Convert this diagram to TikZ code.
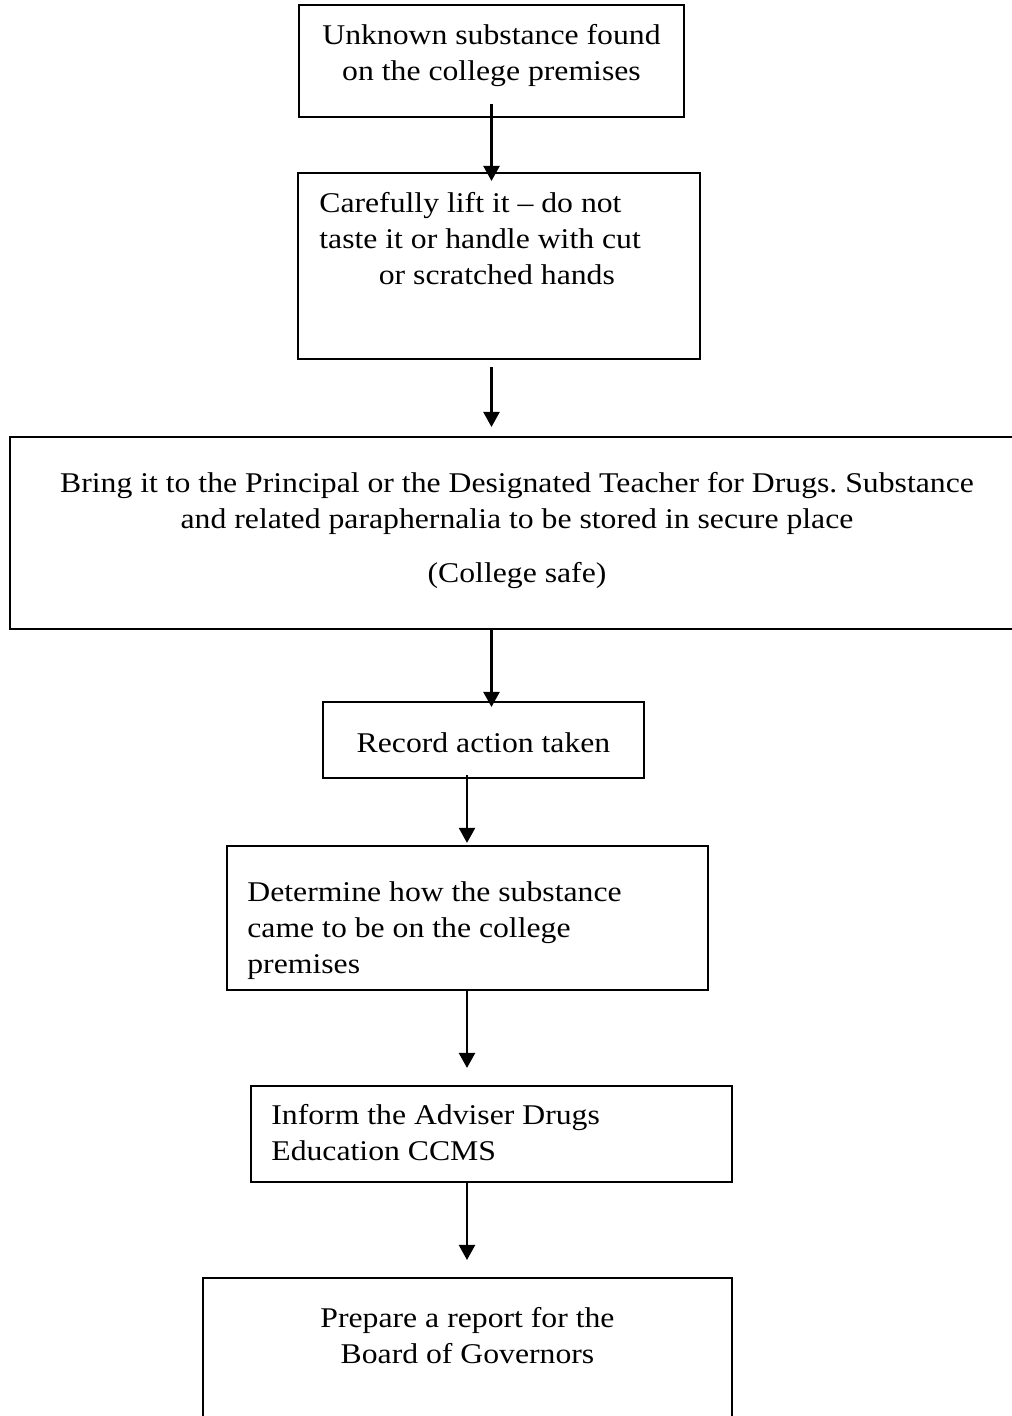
\documentclass[tikz,border=0pt]{standalone}
\usepackage{fontspec}
\setmainfont[FakeStretch=1.11]{Liberation Serif}
\frenchspacing
\usetikzlibrary{positioning,calc,arrows.meta}

\tikzset{
  box/.style={draw, line width=0.9pt, inner sep=0pt},
  txt/.style={inner sep=0pt, font=\fontsize{12}{15.1}\selectfont},
  arr/.style={line width=1pt, -{Triangle[width=6.7pt,length=6.3pt]}}
}

\begin{document}
\begin{tikzpicture}[x=0.42pt, y=-0.42pt]
        \clip (0, 0) rectangle (1012, 1416);

        \coordinate (colA) at (491.5, 0);
        \coordinate (colB) at (467, 0);

        % Boxes
        \node[box, minimum width=161.7pt, minimum height=47pt] (b1) at (491.5, 61) {};
        \node[box, minimum width=168.8pt, minimum height=78.1pt] (b2) at (499, 266) {};
        \node[box, minimum width=425.9pt, minimum height=80.6pt] (b3) at (517, 533) {};
        \node[box, minimum width=134.8pt, minimum height=31.9pt] (b4) at (483.5, 740) {};
        \node[box, minimum width=202pt, minimum height=60.5pt] (b5) at (467.5, 918) {};
        \node[box, minimum width=202pt, minimum height=40.3pt] (b6) at (491.5, 1134) {};
        \node[box, minimum width=222.2pt, minimum height=68pt] (b7) at (467.5, 1359) {};

        % Texts
        \node[txt, align=center, below=8.4pt of b1.north] (t1)
            {Unknown substance found\\on the college premises};
        \node[txt, align=left, below right=8.4pt and 9.2pt of b2.north west] (t2)
            {Carefully lift it – do not\\taste it or handle with cut\\\hspace*{25pt}or scratched hands};
        \node[txt, align=center, below=15.1pt of b3.north] (t3)
            {Bring it to the Principal or the Designated Teacher for Drugs. Substance\\
             and related paraphernalia to be stored in secure place\\[7.6pt]
             (College safe)};
        \node[txt, below=13pt of b4.north] (t4) {Record action taken};
        \node[txt, align=left, below right=15.1pt and 8.8pt of b5.north west] (t5)
            {Determine how the substance\\came to be on the college\\premises};
        \node[txt, align=left, below right=8pt and 8.8pt of b6.north west] (t6)
            {Inform the Adviser Drugs\\Education CCMS};
        \node[txt, align=center, below=12.6pt of b7.north] (t7)
            {Prepare a report for the\\Board of Governors};

        % Arrows
        \draw[arr] ($(b1.south -| colA) + (0, -14)$) -- ($(b2.north -| colA) + (0, 9)$);
        \draw[arr] ($(b2.south -| colA) + (0, 7)$) -- ($(b3.north -| colA) + (0, -9)$);
        \draw[arr] (b3.south -| colA) -- ($(b4.north -| colA) + (0, 6)$);
        \draw[arr] ($(b4.south -| colB) + (0, -4)$) -- ($(b5.north -| colB) + (0, -2)$);
        \draw[arr] (b5.south -| colB) -- ($(b6.north -| colB) + (0, -17)$);
        \draw[arr] (b6.south -| colB) -- ($(b7.north -| colB) + (0, -17)$);

    \end{tikzpicture}
\end{document}
